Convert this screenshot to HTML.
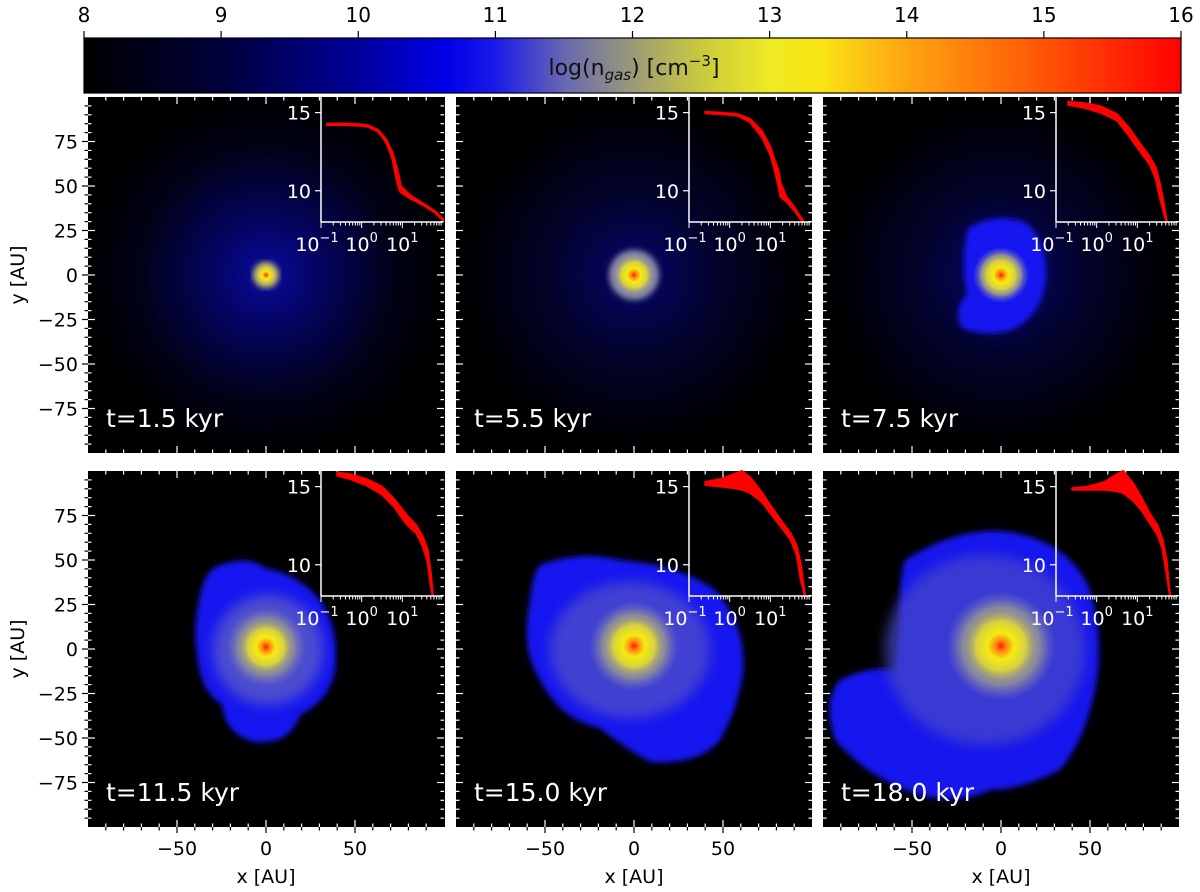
<!DOCTYPE html>
<html><head><meta charset="utf-8"><style>
html,body{margin:0;padding:0;background:#fff;width:1200px;height:892px;overflow:hidden}
svg{display:block;font-family:"DejaVu Sans","Liberation Sans",sans-serif}
</style></head><body>
<svg id="fig" width="1200" height="892" viewBox="0 0 1200 892">
<defs>
<linearGradient id="cmap" x1="0" x2="1" y1="0" y2="0">
<stop offset="0" stop-color="#000000"/><stop offset="0.125" stop-color="#00003a"/>
<stop offset="0.25" stop-color="#00009a"/><stop offset="0.33" stop-color="#0000e8"/>
<stop offset="0.375" stop-color="#1a1ae8"/><stop offset="0.44" stop-color="#6a6ab0"/>
<stop offset="0.5" stop-color="#9a9a78"/><stop offset="0.56" stop-color="#c8c840"/>
<stop offset="0.625" stop-color="#eeea24"/><stop offset="0.67" stop-color="#f8e614"/>
<stop offset="0.75" stop-color="#ffa412"/><stop offset="0.875" stop-color="#ff5406"/>
<stop offset="1" stop-color="#ff0000"/></linearGradient>
<radialGradient id="halo"><stop offset="0" stop-color="#0a0aa0"/><stop offset="0.3" stop-color="#040460"/><stop offset="0.7" stop-color="#010118"/><stop offset="1" stop-color="#000"/></radialGradient>
<radialGradient id="halo2"><stop offset="0" stop-color="#06066a"/><stop offset="0.5" stop-color="#02022a"/><stop offset="1" stop-color="#000"/></radialGradient>
<radialGradient id="core"><stop offset="0" stop-color="#ff1a00"/><stop offset="0.15" stop-color="#ff8a10"/><stop offset="0.35" stop-color="#f4ec10"/><stop offset="0.65" stop-color="#d8d040"/><stop offset="1" stop-color="#9a9a80" stop-opacity="0"/></radialGradient>
<radialGradient id="gray"><stop offset="0" stop-color="#a0a078"/><stop offset="0.7" stop-color="#8888a0"/><stop offset="1" stop-color="#6a6ac0" stop-opacity="0"/></radialGradient>
<filter id="b3"><feGaussianBlur stdDeviation="3"/></filter>
<filter id="b6"><feGaussianBlur stdDeviation="6"/></filter>
<clipPath id="cp0"><rect x="88" y="97" width="357" height="356"/></clipPath>
<clipPath id="cp1"><rect x="456" y="97" width="356" height="356"/></clipPath>
<clipPath id="cp2"><rect x="823" y="97" width="356" height="356"/></clipPath>
<clipPath id="cp3"><rect x="88" y="471" width="357" height="356"/></clipPath>
<clipPath id="cp4"><rect x="456" y="471" width="356" height="356"/></clipPath>
<clipPath id="cp5"><rect x="823" y="471" width="356" height="356"/></clipPath>
</defs>

<g>
<rect x="84" y="38" width="1097" height="55" fill="url(#cmap)" stroke="#000" stroke-width="1.2"/>
<text x="634" y="75" font-size="22" fill="#111" text-anchor="middle">log(n<tspan font-size="15" font-style="italic" dy="5">gas</tspan><tspan dy="-5">) [cm</tspan><tspan font-size="15" dy="-9">−3</tspan><tspan dy="9">]</tspan></text>
<g id="cbticks"></g>
</g>

<g id="panels">
<rect x="88" y="97" width="357" height="356" fill="#000"/>
<rect x="456" y="97" width="356" height="356" fill="#000"/>
<rect x="823" y="97" width="356" height="356" fill="#000"/>
<rect x="88" y="471" width="357" height="356" fill="#000"/>
<rect x="456" y="471" width="356" height="356" fill="#000"/>
<rect x="823" y="471" width="356" height="356" fill="#000"/>

<g clip-path="url(#cp0)">
<circle cx="266" cy="275" r="180" fill="url(#halo)"/>
<circle cx="266" cy="275" r="13" fill="#c8c060" filter="url(#b3)"/>
<circle cx="266" cy="275" r="11" fill="url(#core)"/>
</g>
<g clip-path="url(#cp1)">
<circle cx="634" cy="275" r="170" fill="url(#halo2)"/>
<circle cx="634" cy="275" r="25" fill="#8a8aa8" filter="url(#b3)"/>
<circle cx="634" cy="275" r="20" fill="url(#core)"/>
</g>
<g clip-path="url(#cp2)">
<circle cx="1001" cy="275" r="170" fill="url(#halo2)"/>
<path d="M968,228 Q995,212 1025,222 Q1048,240 1046,278 Q1043,315 1012,330 Q985,338 962,328 Q952,310 967,294 Q960,262 968,228Z" fill="#1515f0" filter="url(#b3)"/>
<circle cx="1001" cy="275" r="28" fill="url(#gray)"/>
<circle cx="1001" cy="275" r="22" fill="url(#core)"/>
</g>
<g clip-path="url(#cp3)">
<path d="M220,565 Q250,555 265,568 Q300,575 320,600 Q340,630 335,670 Q330,700 300,715 Q290,745 255,742 Q225,735 222,705 Q200,690 198,660 Q192,630 200,595 Q205,570 220,565Z" fill="#1414f0" filter="url(#b3)"/>
<circle cx="268" cy="650" r="55" fill="#5a5ac8" filter="url(#b6)" opacity="0.8"/>
<circle cx="266" cy="647" r="40" fill="url(#gray)"/>
<circle cx="266" cy="647" r="28" fill="url(#core)"/>
</g>
<g clip-path="url(#cp4)">
<path d="M540,565 Q580,550 620,560 Q680,565 715,590 Q750,630 742,680 Q735,715 720,740 Q700,765 650,762 Q620,745 600,728 Q560,720 540,680 Q520,650 530,600 Q532,575 540,565Z" fill="#1414f0" filter="url(#b3)"/>
<ellipse cx="630" cy="650" rx="80" ry="68" fill="#5050c8" filter="url(#b6)" opacity="0.75"/>
<circle cx="634" cy="646" r="45" fill="url(#gray)"/>
<circle cx="634" cy="646" r="32" fill="url(#core)"/>
</g>
<g clip-path="url(#cp5)">
<path d="M905,560 Q960,525 1010,532 Q1070,542 1090,590 Q1105,640 1095,690 Q1085,740 1060,770 Q1020,790 990,790 Q960,805 920,795 Q870,780 835,740 Q822,700 840,680 Q870,665 895,670 Q900,640 900,600 Q900,575 905,560Z" fill="#1414ee" filter="url(#b3)"/>
<ellipse cx="985" cy="650" rx="100" ry="95" fill="#4848c8" filter="url(#b6)" opacity="0.7"/>
<circle cx="1001" cy="646" r="55" fill="url(#gray)"/>
<circle cx="1001" cy="646" r="38" fill="url(#core)"/>
</g>
</g>
<g id="overlay"></g>
</svg>
<script>
const NS="http://www.w3.org/2000/svg";
const cbTicks=[8,9,10,11,12,13,14,15,16];
const timeLabels=["t=1.5 kyr","t=5.5 kyr","t=7.5 kyr","t=11.5 kyr","t=15.0 kyr","t=18.0 kyr"];
const majorTicks=[-75,-50,-25,0,25,50,75];
const xTickLabels=[-50,0,50];
const insetYTicks=[10,15];
const insetXTicks=[-1,0,1];
// radial density profiles: log10(r/AU), upper/lower log n
const prof1R=[-0.85,-0.4,0,0.15,0.4,0.6,0.75,0.85,0.92,0.96,1.2,1.5,1.8,2.0];
const prof1U=[14.3,14.3,14.25,14.2,13.9,13.3,12.5,11.6,10.9,10.3,9.7,9.2,8.7,8.2];
const prof1L=[14.2,14.2,14.15,14.1,13.8,13.1,12.1,10.8,10.1,9.9,9.5,9.1,8.6,8.1];
const prof2R=[-0.6,-0.2,0.2,0.5,0.8,1.0,1.1,1.2,1.25,1.4,1.6,1.8];
const prof2U=[15.05,15.0,14.9,14.6,13.8,12.8,12.0,11.3,10.5,9.6,8.9,8.1];
const prof2L=[14.95,14.9,14.8,14.4,13.4,12.3,11.4,10.3,9.6,9.3,8.7,8.0];
const prof3R=[-0.7,-0.3,0.1,0.5,0.8,1.1,1.3,1.45,1.55,1.65,1.72];
const prof3U=[15.7,15.6,15.4,14.9,14.0,12.9,12.2,11.5,10.5,9.2,8.1];
const prof3L=[15.5,15.3,15.0,14.5,13.5,12.4,11.7,10.8,9.6,8.6,8.0];
const prof4R=[-0.6,-0.3,0.1,0.5,0.8,1.1,1.35,1.5,1.62,1.7,1.75];
const prof4U=[15.9,15.8,15.5,15.0,14.2,13.2,12.5,11.8,11.0,9.5,8.1];
const prof4L=[15.7,15.5,15.1,14.5,13.7,12.6,12.0,11.2,10.2,8.6,8.0];
const prof5R=[-0.6,-0.2,0.1,0.3,0.5,0.8,1.0,1.3,1.5,1.65,1.75,1.85];
const prof5U=[15.3,15.5,15.8,16.0,15.6,14.6,13.8,12.7,12.0,11.2,10.0,8.1];
const prof5L=[15.1,15.0,14.9,14.8,14.6,14.0,13.3,12.3,11.6,10.6,9.0,8.0];
const prof6R=[-0.6,-0.2,0.2,0.5,0.65,0.9,1.1,1.3,1.5,1.62,1.72,1.8];
const prof6U=[14.9,15.0,15.3,15.8,16.0,15.2,14.3,13.3,12.5,11.6,10.3,8.1];
const prof6L=[14.8,14.8,14.8,14.7,14.6,14.1,13.5,12.7,11.9,11.0,9.4,8.0];
const profR=[prof1R,prof2R,prof3R,prof4R,prof5R,prof6R];
const profU=[prof1U,prof2U,prof3U,prof4U,prof5U,prof6U];
const profL=[prof1L,prof2L,prof3L,prof4L,prof5L,prof6L];

const ov=document.getElementById('overlay');
function mk(tag,attrs,parent){const e=document.createElementNS(NS,tag);for(const k in attrs)e.setAttribute(k,attrs[k]);(parent||ov).appendChild(e);return e;}
const cbx=v=>84+(v-8)*(1097/8);
const cbg=document.getElementById('cbticks');
cbTicks.forEach(v=>{
  const l=mk('line',{x1:cbx(v),x2:cbx(v),y1:31,y2:38,stroke:'#000','stroke-width':1.2},cbg);
  
  
  const t=mk('text',{x:cbx(v),y:22,'font-size':20,'text-anchor':'middle',fill:'#000'},cbg);
  t.textContent=v;
  
  
});
const lefts=[88,456,823], tops=[97,471], W=356, S=1.78;
for(let i=0;i<6;i++){
  const L=lefts[i%3], T=tops[Math.floor(i/3)], cx=L+W/2, cy=T+W/2;
  const g=mk('g',{});
  
  
  const X=a=>cx+a*S, Y=a=>cy-a*S;
  for(let a=-95;a<=95;a+=5){
    const maj=a%25===0&&Math.abs(a)<=75, len=maj?7:3.5;
    const xmaj=a%50===0, xl=xmaj?7:3.5;
    if(a%10===0||xmaj){
      mk('line',{x1:X(a),x2:X(a),y1:T,y2:T+xl,stroke:'#fff','stroke-width':1.2},g);
      mk('line',{x1:X(a),x2:X(a),y1:T+W,y2:T+W-xl,stroke:'#fff','stroke-width':1.2},g);
      if(Math.floor(i/3)===1){mk('line',{x1:X(a),x2:X(a),y1:T+W,y2:T+W+(xmaj?6:3.5),stroke:'#000','stroke-width':1.2},g);}
    }
    mk('line',{x1:L,x2:L+len,y1:Y(a),y2:Y(a),stroke:'#fff','stroke-width':1.2},g);
    mk('line',{x1:L+W,x2:L+W-len,y1:Y(a),y2:Y(a),stroke:'#fff','stroke-width':1.2},g);
    if(i%3===0){mk('line',{x1:L,x2:L-(maj?6:3.5),y1:Y(a),y2:Y(a),stroke:'#000','stroke-width':1.2},g);}
  }
  if(i%3===0){
    majorTicks.forEach(v=>{const t=mk('text',{x:L-10,y:Y(v)+7,'font-size':19,'text-anchor':'end',fill:'#000'},g);t.textContent=(v<0?'−':'')+Math.abs(v);
      
      });
    const yl=mk('text',{x:24,y:cy,'font-size':19,'text-anchor':'middle',fill:'#000',transform:`rotate(-90 24 ${cy})`},g);yl.textContent='y [AU]';
    
    
  }
  if(Math.floor(i/3)===1){
    xTickLabels.forEach(v=>{const t=mk('text',{x:X(v),y:T+W+28,'font-size':19,'text-anchor':'middle',fill:'#000'},g);t.textContent=(v<0?'−':'')+Math.abs(v);
      
      });
    const xl=mk('text',{x:cx,y:T+W+56,'font-size':19,'text-anchor':'middle',fill:'#000'},g);xl.textContent='x [AU]';
    
    
  }
  const tl=mk('text',{x:L+18,y:T+330,'font-size':25,fill:'#fff'},g);tl.textContent=timeLabels[i];
  
  
  const iL=L+233, iR=L+W-1, iB=T+125, iT=T+0;
  const ix=v=>iL+(v+1)*(iR-iL)/3, iy=v=>iB-(v-8)*(iB-iT)/8;
  const ig=mk('g',{},g);
  
  
  const R=profR[i],U=profU[i],Lo=profL[i];
  let d='M'+R.map((r,k)=>ix(r)+','+iy(U[k])).join(' L');
  for(let k=R.length-1;k>=0;k--)d+=' L'+ix(R[k])+','+iy(Lo[k]);
  const band=mk('path',{d:d+'Z',fill:'#ff0000',stroke:'#ff0000','stroke-width':2,'stroke-linejoin':'round'},ig);
  
  
  mk('line',{x1:iL,x2:iL,y1:iT,y2:iB,stroke:'#fff','stroke-width':1.5},ig);
  mk('line',{x1:iL,x2:iR,y1:iB,y2:iB,stroke:'#fff','stroke-width':1.5},ig);
  insetYTicks.forEach(v=>{mk('line',{x1:iL,x2:iL-6,y1:iy(v),y2:iy(v),stroke:'#fff','stroke-width':1.2},ig);
    const t=mk('text',{x:iL-10,y:iy(v)+7,'font-size':19,'text-anchor':'end',fill:'#fff'},ig);t.textContent=v;
    
    });
  for(let dec=-1;dec<2;dec++){for(let m=1;m<10;m++){const v=dec+Math.log10(m);
    mk('line',{x1:ix(v),x2:ix(v),y1:iB,y2:iB+(m===1?6:3.5),stroke:'#fff','stroke-width':1},ig);}}
  insetXTicks.forEach(v=>{const t=mk('text',{x:ix(v)-(v===-1?4:0),y:iB+29,'font-size':19,'text-anchor':'middle',fill:'#fff'},ig);
    t.innerHTML='10<tspan font-size="13" dy="-9">'+(v<0?'−':'')+Math.abs(v)+'</tspan>';
    
    });
}
</script>
</body></html>
